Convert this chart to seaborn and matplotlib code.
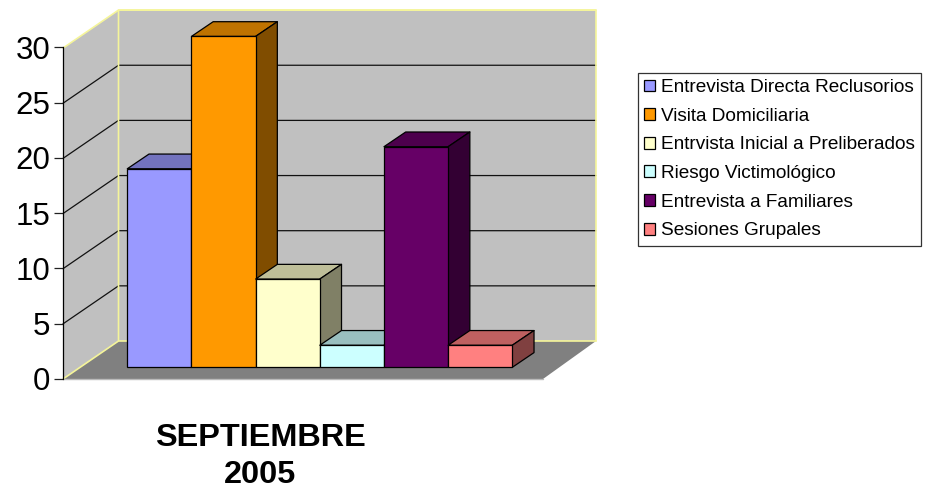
import pandas as pd
import numpy as np
import matplotlib
matplotlib.use('Agg')
import matplotlib.pyplot as plt
from matplotlib.patches import Polygon
from matplotlib.colors import to_rgb
import seaborn as sns

categories = ['Entrevista Directa Reclusorios', 'Visita Domiciliaria', 'Entrvista Inicial a Preliberados',
              'Riesgo Victimológico', 'Entrevista a Familiares', 'Sesiones Grupales']
values = [18, 30, 8, 2, 20, 2]
colors = ['#9999FF', '#FF9900', '#FFFFCC', '#CCFFFF', '#660066', '#FF8080']
y_ticks = [0, 5, 10, 15, 20, 25, 30]
title = 'SEPTIEMBRE\n2005'

sns.set_style('white')
plt.rcParams['font.family'] = ['Liberation Sans', 'DejaVu Sans']
plt.rcParams['text.color'] = 'black'

W, H = 925, 490
BAR_W = 64.17   # px per category
UNIT = 11.03    # px per value unit
BASE_Y = 367.3  # px row of the bars' feet
LEFT = 127.3


def px_x(p):
    return (p - LEFT) / BAR_W - 0.5


def px_y(p):
    return (BASE_Y - p) / UNIT


df = pd.DataFrame({'Categoria': categories, 'Valor': values})

fig = plt.figure(figsize=(W / 100, H / 100), dpi=100, facecolor='white')
ax = fig.add_axes([0, 0, 1, 1])
sns.barplot(data=df, x='Categoria', y='Valor', hue='Categoria', order=categories, hue_order=categories,
            palette=colors, dodge=False, width=1, saturation=1, edgecolor='black', linewidth=0.9, ax=ax, legend=True)
ax.set_xlim(px_x(0), px_x(W))
ax.set_ylim(px_y(H), px_y(0))
ax.set_axis_off()

# box of the 3D plot, in data units
x_front, x_back, x_right, x_front_r = px_x(63), px_x(118.5), px_x(596), px_x(543)
y_front, y_back = px_y(379), px_y(341)
top = max(y_ticks)
WALL = '#C0C0C0'
EDGE = '#F5F59A'

ax.add_patch(Polygon([(x_back, y_back), (x_right, y_back), (x_right, y_back + top), (x_back, y_back + top)],
                     fc=WALL, ec='none', zorder=0.1))
ax.add_patch(Polygon([(x_front, y_front), (x_back, y_back), (x_back, y_back + top), (x_front, y_front + top)],
                     fc=WALL, ec='none', zorder=0.1))
ax.add_patch(Polygon([(x_front, y_front), (x_back, y_back), (x_right, y_back), (x_front_r, y_front)],
                     fc='#808080', ec='none', zorder=0.2))
for v in y_ticks[1:-1]:
    ax.plot([x_front, x_back, x_right], [y_front + v, y_back + v, y_back + v], color='#111111', lw=0.9, zorder=0.3)
ax.plot([x_front, x_back, x_back, x_right, x_right], [y_front, y_back, y_back + top, y_back + top, y_back],
        color=EDGE, lw=1.2, zorder=0.4)
ax.plot([x_front, x_back, x_right], [y_front + top, y_back + top, y_back + top], color=EDGE, lw=1.2, zorder=0.4)
ax.plot([x_back, x_right], [y_back, y_back], color=EDGE, lw=1.2, zorder=0.4)
ax.plot([x_front, x_front_r], [y_front, y_front], color='#BBBBBB', lw=1, zorder=0.4)

# top and side faces of each bar
dx = 21.7 / BAR_W
dy = 14.7 / UNIT
for i, container in enumerate(ax.containers):
    for bar in container:
        x0, x1, h = bar.get_x(), bar.get_x() + bar.get_width(), bar.get_height()
        if not h or np.isnan(h):
            continue
        rgb = np.array(to_rgb(bar.get_facecolor()[:3]))
        z = 2 + i * 0.1
        bar.set_zorder(z + 0.02)
        ax.add_patch(Polygon([(x0, h), (x1, h), (x1 + dx, h + dy), (x0 + dx, h + dy)],
                             fc=rgb * 0.75, ec='black', lw=0.9, joinstyle='round', zorder=z))
        ax.add_patch(Polygon([(x1, 0), (x1 + dx, dy), (x1 + dx, h + dy), (x1, h)],
                             fc=rgb * 0.5, ec='black', lw=0.9, joinstyle='round', zorder=z + 0.01))

# value axis on the front edge
ax2 = fig.add_axes([63 / W, 1 - 379 / H, 1 / W, (379 - 47.3) / H], facecolor='none')
ax2.set_ylim(0, top)
ax2.set_yticks(y_ticks)
ax2.set_xticks([])
for side in ['top', 'right', 'bottom']:
    ax2.spines[side].set_visible(False)
ax2.spines['left'].set_color('black')
ax2.spines['left'].set_linewidth(0.9)
ax2.tick_params(axis='y', left=True, length=6.8, width=0.9, color='#222222', pad=2.2, labelsize=22.5, labelcolor='black')

ax.text(px_x(260), px_y(489.5), title, ha='center', va='bottom', fontsize=23.4, fontweight='bold',
        color='black', linespacing=1.27)

sns.move_legend(ax, 'upper left', bbox_to_anchor=(px_x(638), px_y(73)), bbox_transform=ax.transData, title=None,
                frameon=True, fancybox=False, framealpha=1, edgecolor='#333333', fontsize=13.7,
                handlelength=0.58, handleheight=0.58, handletextpad=0.3, labelspacing=0.61,
                borderpad=0.33, borderaxespad=0)
ax.get_legend().get_frame().set_linewidth(0.9)
ax.get_legend().set_zorder(6)

plt.savefig('out.png', dpi=100)
print("Saved: 'out.png'")
plt.close()
